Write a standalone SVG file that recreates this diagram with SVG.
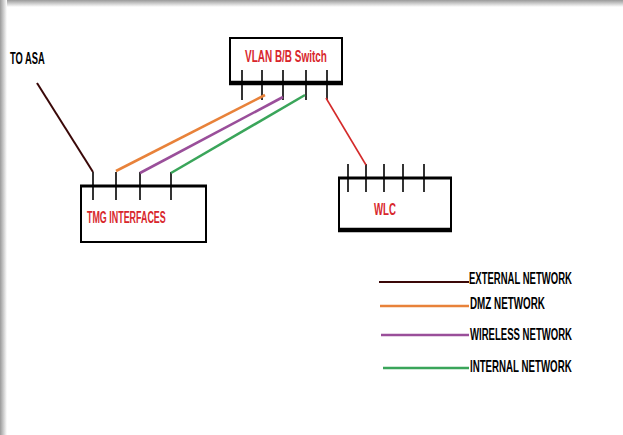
<svg xmlns="http://www.w3.org/2000/svg" width="623" height="435" viewBox="0 0 623 435">
<defs>
<linearGradient id="gTop" x1="0" y1="0" x2="0" y2="1"><stop offset="0" stop-color="#9a9a9a"/><stop offset="1" stop-color="#ffffff"/></linearGradient>
<linearGradient id="gLeft" x1="0" y1="0" x2="1" y2="0"><stop offset="0" stop-color="#9a9a9a"/><stop offset="1" stop-color="#ffffff"/></linearGradient>
</defs>
<style>
.box{fill:#fff;stroke:#000;stroke-width:2}
.thick{stroke:#000;stroke-width:4.5}
.tick{stroke:#000;stroke-width:1.6}
.lbl{font-family:"Liberation Sans",Arial,sans-serif;font-size:17px;font-weight:bold}
.red{fill:#d8262c}
.blk{fill:#000}
.ext{stroke:#3a0808;stroke-width:2;fill:none}
.dmz{stroke:#e8823a;stroke-width:2.6;fill:none}
.wls{stroke:#9a4f9a;stroke-width:2.6;fill:none}
.int{stroke:#3aa55a;stroke-width:2.6;fill:none}
.wlan{stroke:#d42a2a;stroke-width:1.6;fill:none}
</style>
<rect width="623" height="435" fill="#fff"/>
<rect x="0" y="0" width="623" height="7" fill="url(#gTop)"/>
<rect x="0" y="0" width="7" height="435" fill="url(#gLeft)"/>

<g id="asa">
<text class="lbl blk" transform="translate(10,64) scale(0.55,1)">TO ASA</text>
</g>

<g id="switch">
<rect class="box" x="230" y="38" width="112" height="45"/>
<line class="thick" x1="229" y1="83" x2="343" y2="83"/>
<line class="tick" x1="242" y1="70" x2="242" y2="100"/>
<line class="tick" x1="262" y1="70" x2="262" y2="100"/>
<line class="tick" x1="283" y1="70" x2="283" y2="100"/>
<line class="tick" x1="306" y1="70" x2="306" y2="100"/>
<line class="tick" x1="327" y1="70" x2="327" y2="100"/>
<text class="lbl red" transform="translate(245,62) scale(0.587,1)">VLAN B/B Switch</text>
</g>

<g id="tmg">
<rect class="box" x="81" y="186" width="125" height="56"/>
<line stroke="#000" stroke-width="3" x1="80" y1="186" x2="207" y2="186"/>
<line class="tick" x1="93" y1="172" x2="93" y2="200"/>
<line class="tick" x1="116" y1="172" x2="116" y2="200"/>
<line class="tick" x1="140" y1="172" x2="140" y2="200"/>
<line class="tick" x1="171" y1="172" x2="171" y2="200"/>
<text class="lbl red" transform="translate(87,223) scale(0.525,1)">TMG INTERFACES</text>
</g>

<g id="wlc">
<rect class="box" x="339" y="178" width="112" height="52"/>
<line stroke="#000" stroke-width="3" x1="338" y1="178" x2="452" y2="178"/>
<line class="thick" x1="338" y1="230" x2="452" y2="230"/>
<line class="tick" x1="348" y1="164" x2="348" y2="192"/>
<line class="tick" x1="366" y1="164" x2="366" y2="192"/>
<line class="tick" x1="384" y1="164" x2="384" y2="192"/>
<line class="tick" x1="403" y1="164" x2="403" y2="192"/>
<line class="tick" x1="424" y1="164" x2="424" y2="192"/>
<text class="lbl red" transform="translate(374,215) scale(0.568,1)">WLC</text>
</g>

<g id="connectors">
<line class="ext" x1="37" y1="83" x2="93" y2="172"/>
<line class="dmz" x1="116" y1="171" x2="265" y2="95"/>
<line class="wls" x1="140" y1="173" x2="283" y2="97"/>
<line class="int" x1="171" y1="173" x2="305" y2="95"/>
<line class="wlan" x1="326" y1="98" x2="366" y2="165"/>
</g>

<g id="legend">
<line class="ext" x1="379" y1="282" x2="469" y2="282"/>
<text class="lbl blk" transform="translate(469,284) scale(0.56,1)">EXTERNAL NETWORK</text>
<line class="dmz" x1="380" y1="306" x2="469" y2="306"/>
<text class="lbl blk" transform="translate(470,309) scale(0.58,1)">DMZ NETWORK</text>
<line class="wls" x1="381" y1="335" x2="469" y2="335" stroke-width="3.2"/>
<text class="lbl blk" transform="translate(470,340) scale(0.563,1)">WIRELESS NETWORK</text>
<line class="int" x1="383" y1="368" x2="469" y2="368"/>
<text class="lbl blk" transform="translate(470,372) scale(0.571,1)">INTERNAL NETWORK</text>
</g>
</svg>
